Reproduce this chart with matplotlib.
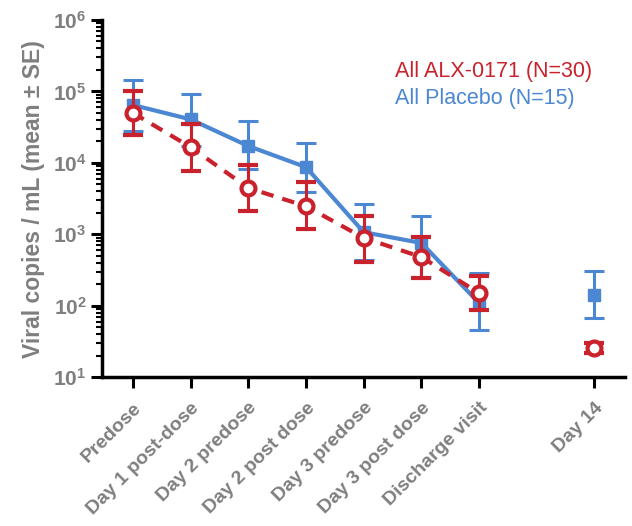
import numpy as np
import matplotlib
matplotlib.use("Agg")
import matplotlib.pyplot as plt
from matplotlib.ticker import LogLocator, NullFormatter

plt.rcParams['font.family'] = ['Liberation Sans', 'DejaVu Sans']

# timepoints (Day 14 sits one slot further right)
labels = ['Predose', 'Day 1 post-dose', 'Day 2 predose', 'Day 2 post dose',
          'Day 3 predose', 'Day 3 post dose', 'Discharge visit', 'Day 14']
xpos = [0, 1, 2, 3, 4, 5, 6, 8]

# All Placebo (N=15): mean, upper and lower ends of error bars
plac_mean = [64500, 40600, 17200, 8700, 1070, 755, 109, 141]
plac_hi = [145000, 91000, 38500, 19000, 2650, 1800, 285, 305]
plac_lo = [28000, 17000, 8100, 3900, 430, 250, 46, 67]

# All ALX-0171 (N=30)
alx_mean = [50000, 16600, 4450, 2470, 890, 480, 150, 26]
alx_hi = [102000, 35000, 9400, 5350, 1800, 910, 260, 30]
alx_lo = [24600, 7700, 2100, 1180, 410, 245, 87, 22]

red = '#C9222C'
blue = '#4B87D2'
grey = '#7F7F7F'

fig = plt.figure(figsize=(6.32, 5.26), dpi=100)
ax = fig.add_axes([0.161, 0.283, 0.828, 0.679])

pm = np.array(plac_mean)
am = np.array(alx_mean)
perr = [pm - np.array(plac_lo), np.array(plac_hi) - pm]
aerr = [am - np.array(alx_lo), np.array(alx_hi) - am]

# placebo: solid line up to discharge, lone point at day 14
ax.plot(xpos[:7], pm[:7], color=blue, lw=3, zorder=2)
ax.errorbar(xpos, pm, yerr=perr, fmt='s', color=blue, ms=9, mfc=blue, mec=blue,
            elinewidth=2.2, capsize=7, capthick=2.2, zorder=3)

ax.plot(xpos[:7], am[:7], color=red, lw=3, ls=(0, (3, 2.2)), zorder=4)
ax.errorbar(xpos, am, yerr=aerr, fmt='o', color=red, ms=10, mfc='white', mec=red,
            mew=3, elinewidth=2.2, capsize=7, capthick=2.2, zorder=5)

ax.set_yscale('log')
ax.set_ylim(10, 1e6)
ax.set_xlim(-0.54, 8.53)
ax.yaxis.set_major_locator(LogLocator(base=10, numticks=10))
ax.yaxis.set_minor_locator(LogLocator(base=10, subs=np.arange(2, 10), numticks=10))
ax.yaxis.set_minor_formatter(NullFormatter())

ax.set_xticks(xpos)
ax.set_xticklabels(labels, rotation=45, ha='right', rotation_mode='anchor',
                   color=grey, fontsize=14, fontweight='bold')
for t in ax.get_yticklabels():
    t.set_color(grey)
    t.set_fontsize(15)
    t.set_fontweight('bold')

ax.spines['top'].set_visible(False)
ax.spines['right'].set_visible(False)
ax.spines['left'].set_linewidth(2.5)
ax.spines['bottom'].set_linewidth(2.5)
ax.tick_params(axis='both', which='major', direction='out', length=8, width=2.2, pad=3)
ax.tick_params(axis='y', which='minor', direction='out', length=4, width=1.5)
ax.tick_params(axis='x', pad=8)

ax.set_ylabel('Viral copies / mL (mean ± SE)', color=grey, fontsize=16.5,
              fontweight='bold', labelpad=6)

ax.text(0.56, 0.855, 'All ALX-0171 (N=30)', color=red, fontsize=15.5,
        transform=ax.transAxes, va='center')
ax.text(0.56, 0.78, 'All Placebo (N=15)', color=blue, fontsize=15.5,
        transform=ax.transAxes, va='center')

fig.savefig('out.png', dpi=100)
